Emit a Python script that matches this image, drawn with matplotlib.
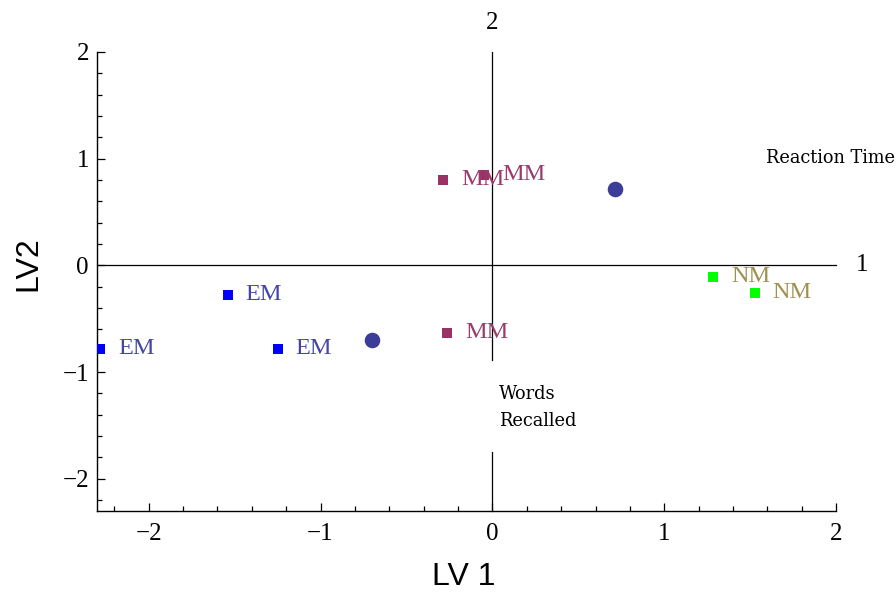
import matplotlib.pyplot as plt
from matplotlib.ticker import MultipleLocator

# scores on the two latent variables
em_x = [-1.54, -2.28, -1.25]
em_y = [-0.275, -0.78, -0.78]
mm_x = [-0.285, -0.05, -0.262]
mm_y = [0.80, 0.85, -0.632]
nm_x = [1.283, 1.525]
nm_y = [-0.106, -0.256]
load_x = [0.715, -0.70]
load_y = [0.714, -0.698]

em_labels = ["EM", "EM", "EM"]
mm_labels = ["MM", "MM", "MM"]
nm_labels = ["NM", "NM"]

serif = "Liberation Serif"
sans = "Liberation Sans"

fig = plt.figure(figsize=(8.96, 5.92), dpi=100)
ax = fig.add_axes([0.1083, 0.1373, 0.825, 0.7749])
ax.set_xlim(-2.3, 2)
ax.set_ylim(-2.3, 2)

# centre axis lines
ax.plot([-2.3, 2], [0, 0], color="black", lw=0.9, clip_on=False, zorder=1)
ax.plot([0, 0], [-0.89, 2], color="black", lw=0.9, clip_on=False, zorder=1)
ax.plot([0, 0], [-2.3, -1.75], color="black", lw=0.9, clip_on=False, zorder=1)
ax.text(2.153, 0, "1", family=serif, fontsize=18, ha="center", va="center")
ax.text(0, 2.27, "2", family=serif, fontsize=18, ha="center", va="center")

def group(xs, ys, labels, mcolor, tcolor, ms):
    ax.plot(xs, ys, "s", color=mcolor, ms=ms, mew=0, zorder=3)
    for x, y, lab in zip(xs, ys, labels):
        ax.annotate(lab, (x, y), xytext=(13, -3.6), textcoords="offset points",
                    family=serif, fontsize=17.5, color=tcolor,
                    ha="left", va="baseline", zorder=4)

group(em_x, em_y, em_labels, "#0000ff", "#4444aa", 7.7)
group(mm_x, mm_y, mm_labels, "#993366", "#9c3a6c", 7.2)
group(nm_x, nm_y, nm_labels, "#00ff00", "#a09050", 7.7)

ax.plot(load_x, load_y, "o", color="#3c3c99", ms=11.2, mew=0, zorder=3)

ax.text(1.589, 0.955, "Reaction Time", family="DejaVu Serif", fontsize=12.8,
        ha="left", va="baseline")
ax.text(0.037, -1.252, "Words", family="DejaVu Serif", fontsize=12.8,
        ha="left", va="baseline")
ax.text(0.037, -1.502, "Recalled", family="DejaVu Serif", fontsize=12.8,
        ha="left", va="baseline")

for s in ["top", "right"]:
    ax.spines[s].set_visible(False)
for s in ["left", "bottom"]:
    ax.spines[s].set_linewidth(1.0)

ax.xaxis.set_major_locator(MultipleLocator(1))
ax.xaxis.set_minor_locator(MultipleLocator(0.2))
ax.yaxis.set_major_locator(MultipleLocator(1))
ax.yaxis.set_minor_locator(MultipleLocator(0.2))
ax.tick_params(which="major", direction="in", length=5.8, width=0.9)
ax.tick_params(which="minor", direction="in", length=3.4, width=0.9)
ax.tick_params(axis="x", which="major", pad=8.5)
ax.tick_params(axis="y", which="major", pad=5.8)
for lab in ax.get_xticklabels() + ax.get_yticklabels():
    lab.set_family(serif)
    lab.set_fontsize(18)

fig.text(464 / 896, 1 - 585 / 592, "LV 1", family=sans, fontsize=23,
         ha="center", va="baseline")
fig.text(28 / 896, 1 - 264 / 592, "LV2", family=sans, fontsize=23,
         rotation=90, ha="center", va="center")

fig.savefig("out.png", dpi=100)
